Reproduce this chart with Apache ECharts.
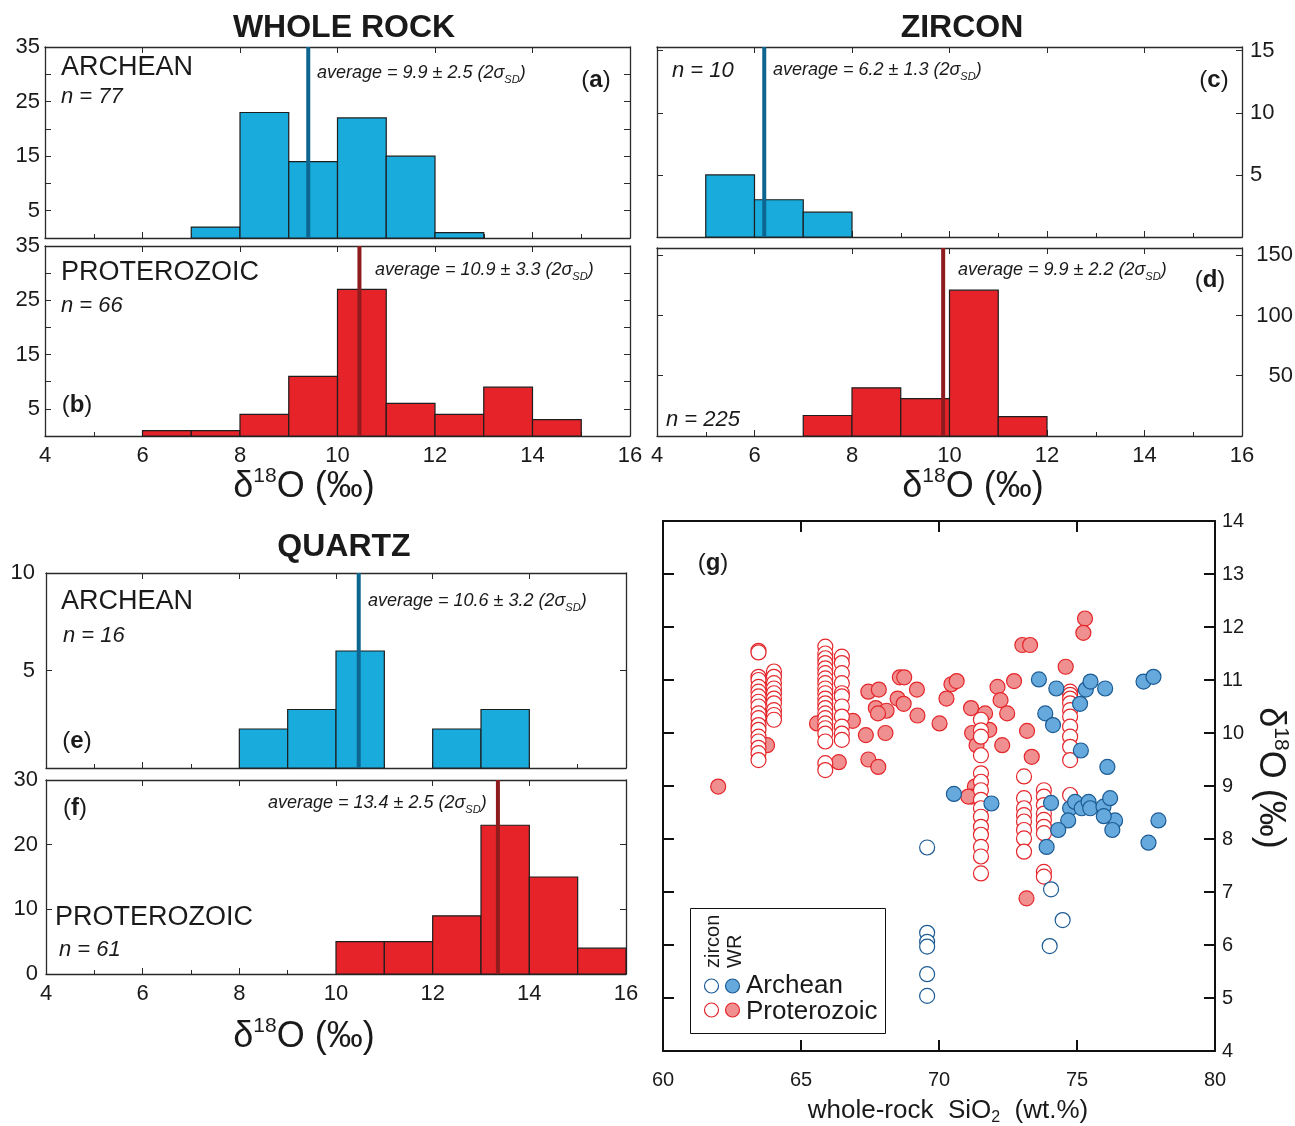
<!DOCTYPE html>
<html><head><meta charset="utf-8">
<script src="https://cdn.jsdelivr.net/npm/echarts@6/dist/echarts.min.js"></script>
<style>html,body{margin:0;padding:0;background:#fff}#c{width:1295px;height:1126px}</style>
</head><body><div id="c"></div>
<script>
// ---------------- DATA ----------------
const binWidth = 1;
// Whole rock
const wrArcheanBins = [7, 8, 9, 10, 11, 12];
const wrArcheanCounts = [2, 23, 14, 22, 15, 1];
const wrProteroBins = [6, 7, 8, 9, 10, 11, 12, 13, 14];
const wrProteroCounts = [1, 1, 4, 11, 27, 6, 4, 9, 3];
// Zircon
const zrcArcheanBins = [5, 6, 7];
const zrcArcheanCounts = [5, 3, 2];
const zrcProteroBins = [7, 8, 9, 10, 11];
const zrcProteroCounts = [17, 40, 31, 121, 16];
// Quartz
const qtzArcheanBins = [8, 9, 10, 12, 13];
const qtzArcheanCounts = [2, 3, 6, 2, 3];
const qtzProteroBins = [10, 11, 12, 13, 14, 15];
const qtzProteroCounts = [5, 5, 9, 23, 15, 4];
// average lines (position drawn)
const avgWrArchean = 9.4, avgWrProtero = 10.45, avgZrcArchean = 6.2, avgZrcProtero = 9.87, avgQtzArchean = 10.47, avgQtzProtero = 13.35;
// tick labels
const histXTicks = [4, 6, 8, 10, 12, 14, 16];
const wrYLabels = [5, 15, 25, 35];
const zrcArcheanYLabels = [5, 10, 15];
const zrcProteroYLabels = [50, 100, 150];
const qtzArcheanYLabels = [5, 10];
const qtzProteroYLabels = [0, 10, 20, 30];

// Scatter (g): [SiO2, d18O]
const archeanZircon = [[69.57,7.84],[69.57,6.23],[69.57,6.06],[69.57,5.97],[69.57,5.45],[69.57,5.04],[74.06,7.05],[74.48,6.47],[74.01,5.98]];
const archeanWR = [[73.62,11.01],[74.25,10.84],[75.32,10.82],[75.49,10.97],[76.02,10.84],[75.11,10.55],[77.41,10.97],[77.77,11.06],
  [73.85,10.37],[74.13,10.15],[75.14,9.67],[76.1,9.36],[70.54,8.85],[71.9,8.67],[74.06,8.68],[74.75,8.58],[74.93,8.7],[75.17,8.58],
  [75.42,8.7],[75.48,8.58],[75.96,8.61],[76.2,8.77],[76.38,8.35],[76.28,8.17],[75.97,8.43],[74.68,8.35],[74.32,8.17],[73.9,7.85],
  [77.59,7.93],[77.95,8.35]];
const proteroWR = [[62.0,8.99],[63.77,9.77],[65.58,10.18],[66.88,10.23],[66.37,9.45],[67.44,10.78],[67.82,10.82],[67.71,10.47],
  [68.1,10.42],[67.79,10.37],[67.35,9.96],[68.06,10.0],[67.44,9.5],[67.8,9.36],[68.58,11.05],[68.74,11.05],[68.5,10.65],[68.72,10.55],
  [69.2,10.82],[69.22,10.33],[70.02,10.18],[70.27,10.65],[70.45,10.92],[70.64,10.98],[71.16,10.47],[71.67,10.37],[71.2,10.0],
  [71.36,9.77],[71.3,8.99],[71.18,8.8],[71.06,8.8],[72.12,10.87],[72.72,10.98],[72.23,10.62],[72.47,10.37],[71.82,10.06],[72.29,9.77],
  [73.19,10.04],[73.36,9.55],[73.02,11.66],[73.3,11.66],[74.59,11.25],[75.29,12.16],[75.23,11.89],[73.17,6.88]];
// Proterozoic zircon, grouped by the whole-rock SiO2 of their host: [SiO2, [d18O...]]
const proteroZirconCols = [
  [63.46, [11.55,11.52,11.06,11.0,10.87,10.78,10.69,10.59,10.5,10.37,10.28,10.15,10.06,9.93,9.84,9.72,9.62,9.49]],
  [64.02, [11.16,11.06,10.94,10.84,10.75,10.65,10.56,10.43,10.34,10.25]],
  [65.88, [11.63,11.5,11.41,11.32,11.22,11.13,11.03,10.94,10.84,10.75,10.65,10.56,10.47,10.37,10.28,10.18,10.09,9.99,9.84,9.43,9.3]],
  [66.48, [11.44,11.32,11.13,10.94,10.75,10.69,10.5,10.31,10.12,9.99,9.87]],
  [71.52, [10.25,10.05,9.93,9.58,9.24,9.08,8.92,8.74,8.58,8.42,8.23,8.08,7.85,7.67,7.35]],
  [73.08, [9.18,8.77,8.58,8.45,8.33,8.17,8.01,7.76]],
  [73.8,  [8.92,8.8,8.64,8.48,8.36,8.23,8.11,7.38,7.29]],
  [74.75, [10.78,10.72,10.65,10.56,10.43,10.31,10.12,9.93,9.74,9.49,8.83]]
];
const scatterXTicks = [60, 65, 70, 75, 80];
const scatterYTicks = [4,5,6,7,8,9,10,11,12,13,14];

// ---------------- STYLE ----------------
const FONT = '"Liberation Sans", Arial, Helvetica, sans-serif';
const INK = '#1a1a1a';
const HIST_BLUE = '#19abdc', HIST_RED = '#e52329';
const AVG_BLUE = '#0d6690', AVG_RED = '#8e1b1e';
const RED_FILL = '#f08f8f', RED_EDGE = '#e4262b', BLUE_FILL = '#66a9dc', BLUE_EDGE = '#1c5b94';

const grids = [], xAxis = [], yAxis = [], series = [];

function addHist(p) {
  const gi = grids.length;
  grids.push({left: p.left, top: p.top, width: p.width, height: p.height, outerBoundsMode: 'none'});
  const xi = xAxis.length, yi = yAxis.length;
  const line = {show: true, onZero: false, lineStyle: {color: '#2a2a2a', width: 1.3}};
  const tick = {show: true, inside: true, length: 6, lineStyle: {color: '#2a2a2a', width: 1}};
  const lbl = {fontFamily: FONT, fontSize: 22, color: INK};
  xAxis.push({type: 'value', gridIndex: gi, position: 'bottom', min: 4, max: 16, interval: 2,
    axisLine: line, axisTick: tick,
    minorTick: {show: true, splitNumber: 2, length: 4, lineStyle: {color: '#2a2a2a'}},
    splitLine: {show: false}, minorSplitLine: {show: false},
    axisLabel: Object.assign({show: p.showX, margin: 9, formatter: v => histXTicks.indexOf(v) >= 0 ? String(v) : ''}, lbl)});
  xAxis.push({type: 'value', gridIndex: gi, position: 'top', min: 4, max: 16, interval: 2,
    axisLine: line, axisTick: tick, splitLine: {show: false}, axisLabel: {show: false}});
  const yl = Object.assign({show: true, margin: p.yMargin,
    formatter: v => p.yLabels.indexOf(v) >= 0 ? String(v) : ''}, lbl);
  if (p.yAlign) yl.align = p.yAlign;
  yAxis.push({type: 'value', gridIndex: gi, position: p.yPos, min: 0, max: p.ymax, interval: p.yInt,
    axisLine: line, axisTick: tick, splitLine: {show: false}, axisLabel: yl});
  yAxis.push({type: 'value', gridIndex: gi, position: p.yPos === 'left' ? 'right' : 'left', min: 0, max: p.ymax, interval: p.yInt,
    axisLine: line, axisTick: tick, splitLine: {show: false}, axisLabel: {show: false}});
  series.push({
    type: 'custom', xAxisIndex: xi, yAxisIndex: yi, z: 2,
    data: p.bins.map((b, i) => [b, p.counts[i]]),
    renderItem: function (params, api) {
      const s = api.value(0), c = api.value(1);
      const p0 = api.coord([s, c]), p1 = api.coord([s + binWidth, 0]);
      return {type: 'rect', shape: {x: p0[0], y: p0[1], width: p1[0] - p0[0], height: p1[1] - p0[1]},
        style: {fill: p.color, stroke: '#1e1e1e', lineWidth: 1.2}};
    }
  });
  series.push({type: 'line', xAxisIndex: xi, yAxisIndex: yi, z: 5, symbol: 'none', silent: true,
    data: [[p.avg, 0], [p.avg, p.ymax]], lineStyle: {width: 4, color: p.avgColor}});
}

addHist({left: 45, top: 47, width: 585, height: 191, bins: wrArcheanBins, counts: wrArcheanCounts, color: HIST_BLUE,
  avg: avgWrArchean, avgColor: AVG_BLUE, ymax: 35, yInt: 5, yLabels: wrYLabels, yPos: 'left', yMargin: 5, showX: false});
addHist({left: 45, top: 246, width: 585, height: 190, bins: wrProteroBins, counts: wrProteroCounts, color: HIST_RED,
  avg: avgWrProtero, avgColor: AVG_RED, ymax: 35, yInt: 5, yLabels: wrYLabels, yPos: 'left', yMargin: 5, showX: true});
addHist({left: 657, top: 47, width: 585, height: 190, bins: zrcArcheanBins, counts: zrcArcheanCounts, color: HIST_BLUE,
  avg: avgZrcArchean, avgColor: AVG_BLUE, ymax: 15.3, yInt: 5, yLabels: zrcArcheanYLabels, yPos: 'right', yMargin: 8, showX: false});
addHist({left: 657, top: 248, width: 585, height: 188, bins: zrcProteroBins, counts: zrcProteroCounts, color: HIST_RED,
  avg: avgZrcProtero, avgColor: AVG_RED, ymax: 156, yInt: 50, yLabels: zrcProteroYLabels, yPos: 'right', yMargin: 51, yAlign: 'right', showX: true});
addHist({left: 46, top: 573, width: 580, height: 195, bins: qtzArcheanBins, counts: qtzArcheanCounts, color: HIST_BLUE,
  avg: avgQtzArchean, avgColor: AVG_BLUE, ymax: 10, yInt: 5, yLabels: qtzArcheanYLabels, yPos: 'left', yMargin: 11, showX: false});
addHist({left: 46, top: 780, width: 580, height: 194, bins: qtzProteroBins, counts: qtzProteroCounts, color: HIST_RED,
  avg: avgQtzProtero, avgColor: AVG_RED, ymax: 30, yInt: 10, yLabels: qtzProteroYLabels, yPos: 'left', yMargin: 8, showX: true});

// ---- scatter (g) ----
(function () {
  const gi = grids.length;
  grids.push({left: 663, top: 521, width: 552, height: 530, outerBoundsMode: 'none'});
  const xi = xAxis.length, yi = yAxis.length;
  const line = {show: true, onZero: false, lineStyle: {color: '#111', width: 2}};
  const tick = {show: true, inside: true, length: 11, lineStyle: {color: '#111', width: 2}};
  const lbl = {fontFamily: FONT, fontSize: 20, color: INK};
  xAxis.push({type: 'value', gridIndex: gi, position: 'bottom', min: 60, max: 80, interval: 5, axisLine: line, axisTick: tick,
    splitLine: {show: false}, axisLabel: Object.assign({margin: 19, formatter: v => scatterXTicks.indexOf(v) >= 0 ? String(v) : ''}, lbl)});
  xAxis.push({type: 'value', gridIndex: gi, position: 'top', min: 60, max: 80, interval: 5, axisLine: line, axisTick: tick,
    splitLine: {show: false}, axisLabel: {show: false}});
  yAxis.push({type: 'value', gridIndex: gi, position: 'right', min: 4, max: 14, interval: 1, axisLine: line, axisTick: tick,
    splitLine: {show: false}, axisLabel: Object.assign({margin: 7, formatter: v => scatterYTicks.indexOf(v) >= 0 ? String(v) : ''}, lbl)});
  yAxis.push({type: 'value', gridIndex: gi, position: 'left', min: 4, max: 14, interval: 1, axisLine: line, axisTick: tick,
    splitLine: {show: false}, axisLabel: {show: false}});
  const proteroZircon = [];
  proteroZirconCols.forEach(c => c[1].forEach(y => proteroZircon.push([c[0], y])));
  const sc = (data, fill, edge, z) => ({type: 'scatter', xAxisIndex: xi, yAxisIndex: yi, data, z, symbol: 'circle', symbolSize: 15,
    itemStyle: {color: fill, borderColor: edge, borderWidth: 1.2, opacity: 1}, silent: true});
  series.push(sc(proteroWR, RED_FILL, RED_EDGE, 2));
  series.push(sc(proteroZircon, '#ffffff', RED_EDGE, 3));
  series.push(sc(archeanZircon, '#ffffff', BLUE_EDGE, 4));
  series.push(sc(archeanWR, BLUE_FILL, BLUE_EDGE, 5));
})();

// ---------------- TEXT ----------------
function T(x, y, text, o) {
  o = o || {};
  return {type: 'text', x: x, y: y, rotation: o.rot || 0, silent: true, z: 100,
    style: {text: text, fontFamily: FONT, fontSize: o.size || 16, fontStyle: o.italic ? 'italic' : 'normal',
      fontWeight: o.bold ? 'bold' : 'normal', fill: o.color || INK, align: o.align || 'left', verticalAlign: 'middle',
      lineHeight: o.lh, rich: o.rich}};
}
const avgRich = {sd: {fontFamily: FONT, fontStyle: 'italic', fontSize: 11, lineHeight: 11, verticalAlign: 'bottom', fill: INK}};
const avgT = (x, y, s) => T(x, y, s, {size: 18, italic: true, lh: 24, rich: avgRich});
const panelRich = {b: {fontFamily: FONT, fontWeight: 'bold', fontSize: 24, fill: INK}};
const panT = (x, y, l) => T(x, y, '({b|' + l + '})', {size: 24, align: 'center', rich: panelRich});
const deltaRich = {
  a: {fontFamily: FONT, fontSize: 36, lineHeight: 42, fill: INK},
  s: {fontFamily: FONT, fontSize: 21, lineHeight: 27, verticalAlign: 'top', fill: INK}
};
const deltaT = (x, y, rot) => T(x, y, '{a|δ}{s|18}{a|O (‰)}', {size: 36, align: 'center', lh: 42, rich: deltaRich, rot: rot});

const graphic = [
  T(344, 28, 'WHOLE ROCK', {size: 32, bold: true, align: 'center'}),
  T(962, 28, 'ZIRCON', {size: 32, bold: true, align: 'center'}),
  T(344, 547, 'QUARTZ', {size: 32, bold: true, align: 'center'}),
  // (a)
  T(61, 68, 'ARCHEAN', {size: 27}),
  T(61, 97, 'n = 77', {size: 22, italic: true}),
  avgT(317, 73, 'average = 9.9 ± 2.5 (2σ{sd|SD})'),
  panT(596, 80, 'a'),
  // (b)
  T(61, 273, 'PROTEROZOIC', {size: 27}),
  T(61, 306, 'n = 66', {size: 22, italic: true}),
  avgT(375, 270, 'average = 10.9 ± 3.3 (2σ{sd|SD})'),
  panT(77, 405, 'b'),
  // (c)
  T(672, 71, 'n = 10', {size: 22, italic: true}),
  avgT(773, 70, 'average = 6.2 ± 1.3 (2σ{sd|SD})'),
  panT(1214, 80, 'c'),
  // (d)
  avgT(958, 270, 'average = 9.9 ± 2.2 (2σ{sd|SD})'),
  panT(1210, 280, 'd'),
  T(666, 420, 'n = 225', {size: 22, italic: true}),
  // (e)
  T(61, 602, 'ARCHEAN', {size: 27}),
  T(63, 636, 'n = 16', {size: 22, italic: true}),
  avgT(368, 601, 'average = 10.6 ± 3.2 (2σ{sd|SD})'),
  panT(77, 741, 'e'),
  // (f)
  panT(75, 808, 'f'),
  avgT(268, 803, 'average = 13.4 ± 2.5 (2σ{sd|SD})'),
  T(55, 918, 'PROTEROZOIC', {size: 27}),
  T(59, 950, 'n = 61', {size: 22, italic: true}),
  // axis titles
  deltaT(304, 487, 0),
  deltaT(973, 487, 0),
  deltaT(304, 1037, 0),
  // scatter
  panT(713, 563, 'g'),
  T(948, 1111, 'whole-rock  SiO{s|2}  (wt.%)', {size: 26, align: 'center', lh: 30,
    rich: {s: {fontFamily: FONT, fontSize: 16, lineHeight: 17, verticalAlign: 'bottom', fill: INK}}}),
  deltaT(1270, 778, -Math.PI / 2),
  // legend
  {type: 'rect', silent: true, z: 90, shape: {x: 690.5, y: 908.5, width: 195, height: 125}, style: {fill: '#fff', stroke: '#111', lineWidth: 1}},
  T(713, 968, 'zircon', {size: 20, rot: Math.PI / 2}),
  T(735, 968, 'WR', {size: 20, rot: Math.PI / 2}),
  {type: 'circle', silent: true, z: 100, shape: {cx: 711.5, cy: 986, r: 7}, style: {fill: '#fff', stroke: BLUE_EDGE, lineWidth: 1.2}},
  {type: 'circle', silent: true, z: 100, shape: {cx: 732.5, cy: 986, r: 7}, style: {fill: BLUE_FILL, stroke: BLUE_EDGE, lineWidth: 1.2}},
  {type: 'circle', silent: true, z: 100, shape: {cx: 711.5, cy: 1010, r: 7}, style: {fill: '#fff', stroke: RED_EDGE, lineWidth: 1.2}},
  {type: 'circle', silent: true, z: 100, shape: {cx: 732.5, cy: 1010, r: 7}, style: {fill: RED_FILL, stroke: RED_EDGE, lineWidth: 1.2}},
  T(746, 986, 'Archean', {size: 26}),
  T(746, 1012, 'Proterozoic', {size: 26})
];

const chart = echarts.init(document.getElementById('c'), null, {renderer: 'canvas'});
chart.setOption({
  backgroundColor: '#ffffff',
  animation: false,
  grid: grids, xAxis: xAxis, yAxis: yAxis, series: series, graphic: graphic
});
</script></body></html>
